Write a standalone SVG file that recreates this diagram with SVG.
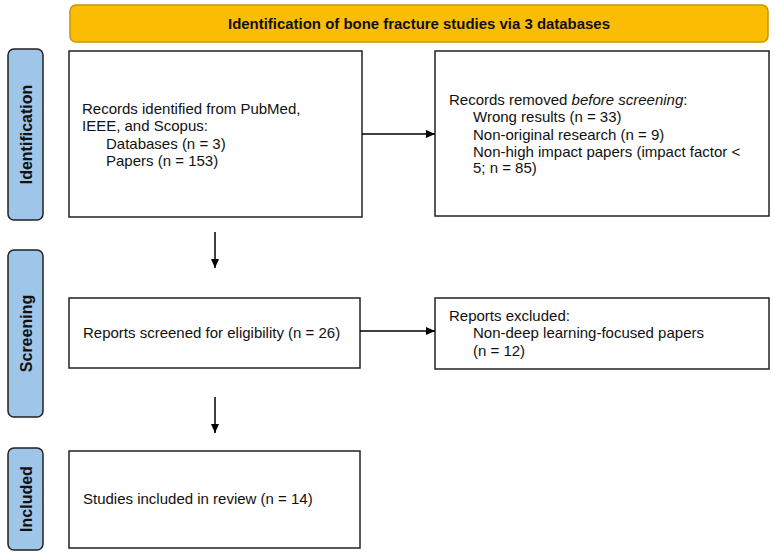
<svg xmlns="http://www.w3.org/2000/svg" width="775" height="557" viewBox="0 0 775 557">
<defs>
<marker id="ah" markerWidth="10" markerHeight="10" refX="9" refY="5" orient="auto" markerUnits="userSpaceOnUse">
<path d="M0,1 L9,5 L0,9 Z" fill="#000"/>
</marker>
<style>
.box{fill:#fff;stroke:#222;stroke-width:1.5}
.side{fill:#9fc5e8;stroke:#222;stroke-width:1.5}
.sidet{font-family:"Liberation Sans",Arial,sans-serif;font-size:16px;font-weight:bold;fill:#111;text-anchor:middle;dominant-baseline:central}
.t{font-family:"Liberation Sans",Arial,sans-serif;font-size:15px;fill:#111}
.conn{stroke:#000;stroke-width:1.5;fill:none;marker-end:url(#ah)}
</style>
</defs>
<rect width="775" height="557" fill="#fff"/>
<g id="title">
<rect x="70" y="5" width="698" height="37" rx="6" fill="#fbbc04" stroke="#c99400" stroke-width="1.5"/>
<text x="419" y="23.5" font-family="'Liberation Sans',Arial,sans-serif" font-size="15" font-weight="bold" fill="#111" text-anchor="middle" dominant-baseline="central" textLength="382" lengthAdjust="spacingAndGlyphs">Identification of bone fracture studies via 3 databases</text>
</g>
<g id="lbl-identification">
<rect class="side" x="8" y="49" width="35" height="171" rx="6"/>
<text class="sidet" transform="translate(26,134.5) rotate(-90)">Identification</text>
</g>
<g id="lbl-screening">
<rect class="side" x="8" y="250" width="35" height="167" rx="6"/>
<text class="sidet" transform="translate(26,333.5) rotate(-90)">Screening</text>
</g>
<g id="lbl-included">
<rect class="side" x="8" y="448" width="35" height="102" rx="6"/>
<text class="sidet" transform="translate(26,499) rotate(-90)">Included</text>
</g>
<g id="records-identified">
<rect class="box" x="69" y="51" width="293" height="166"/>
<text class="t" x="82" y="114">Records identified from PubMed,</text>
<text class="t" x="82" y="131">IEEE, and Scopus:</text>
<text class="t" x="106" y="149">Databases (n = 3)</text>
<text class="t" x="106" y="166">Papers (n = 153)</text>
</g>
<g id="records-removed">
<rect class="box" x="435" y="51" width="334" height="165"/>
<text class="t" x="449" y="105">Records removed <tspan font-style="italic">before screening</tspan>:</text>
<text class="t" x="473" y="122">Wrong results (n = 33)</text>
<text class="t" x="473" y="140">Non-original research (n = 9)</text>
<text class="t" x="473" y="157">Non-high impact papers (impact factor &lt;</text>
<text class="t" x="473" y="173">5; n = 85)</text>
</g>
<g id="reports-screened">
<rect class="box" x="69" y="298" width="291" height="70"/>
<text class="t" x="83" y="338">Reports screened for eligibility (n = 26)</text>
</g>
<g id="reports-excluded">
<rect class="box" x="435" y="298" width="334" height="71"/>
<text class="t" x="449" y="321">Reports excluded:</text>
<text class="t" x="473" y="338">Non-deep learning-focused papers</text>
<text class="t" x="473" y="356">(n = 12)</text>
</g>
<g id="studies-included">
<rect class="box" x="69" y="451" width="291" height="97"/>
<text class="t" x="83" y="504">Studies included in review (n = 14)</text>
</g>
<g id="connectors">
<line class="conn" x1="362" y1="134" x2="435" y2="134"/>
<line class="conn" x1="215" y1="232" x2="215" y2="268"/>
<line class="conn" x1="360" y1="331" x2="435" y2="331"/>
<line class="conn" x1="215" y1="397" x2="215" y2="433"/>
</g>
</svg>
